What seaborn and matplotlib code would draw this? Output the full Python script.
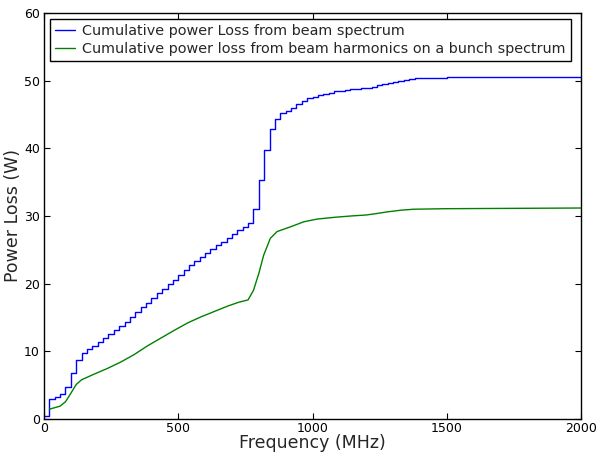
import matplotlib
matplotlib.use("Agg")
import matplotlib.pyplot as plt
import seaborn as sns
import pandas as pd

# Blue: cumulative power loss from beam spectrum (step curve, steps every 20 MHz)
beam_freq = [0, 20, 40, 60, 80, 100, 120, 140, 160, 180, 200, 220, 240, 260, 280,
             300, 320, 340, 360, 380, 400, 420, 440, 460, 480, 500, 520, 540, 560,
             580, 600, 620, 640, 660, 680, 700, 720, 740, 760, 780, 800, 820, 840,
             860, 880, 900, 920, 940, 960, 980, 1000, 1020, 1040, 1060, 1080, 1100,
             1120, 1140, 1160, 1180, 1200, 1220, 1240, 1260, 1280, 1300, 1320, 1340,
             1360, 1380, 1400, 1450, 1500, 1600, 1800, 2000]
beam_loss = [0.45, 2.9, 3.3, 3.65, 4.8, 6.85, 8.7, 9.7, 10.3, 10.8, 11.4, 12.0, 12.55,
             13.15, 13.75, 14.4, 15.05, 15.75, 16.5, 17.2, 17.9, 18.6, 19.2, 19.9,
             20.5, 21.3, 22.0, 22.7, 23.35, 23.9, 24.5, 25.1, 25.7, 26.2, 26.8, 27.4,
             28.0, 28.4, 28.9, 31.1, 35.3, 39.75, 42.8, 44.4, 45.2, 45.5, 46.0, 46.55,
             47.0, 47.4, 47.6, 47.9, 48.1, 48.25, 48.4, 48.5, 48.6, 48.7, 48.8, 48.9,
             48.95, 49.1, 49.4, 49.55, 49.7, 49.85, 49.95, 50.1, 50.25, 50.35, 50.42,
             50.45, 50.5, 50.52, 50.54, 50.55]

# Green: cumulative power loss from beam harmonics on a bunch spectrum
bunch_freq = [20, 60, 80, 100, 120, 140, 185, 235, 285, 335, 385, 435, 485, 535, 585,
              635, 685, 725, 760, 780, 800, 818, 843, 868, 918, 968, 1018, 1080, 1142,
              1200, 1228, 1277, 1328, 1376, 1500, 2000]
bunch_loss = [1.45, 1.9, 2.55, 3.8, 5.1, 5.8, 6.6, 7.45, 8.4, 9.5, 10.8, 11.95, 13.1,
              14.2, 15.1, 15.9, 16.7, 17.25, 17.6, 19.0, 21.5, 24.2, 26.7, 27.7, 28.4,
              29.15, 29.55, 29.8, 30.0, 30.15, 30.3, 30.6, 30.85, 31.0, 31.08, 31.18]

label_beam = "Cumulative power Loss from beam spectrum"
label_bunch = "Cumulative power loss from beam harmonics on a bunch spectrum"

x_ticks = [0, 500, 1000, 1500, 2000]
y_ticks = [0, 10, 20, 30, 40, 50, 60]

sns.set_theme(style="white", rc={
    "xtick.direction": "in", "ytick.direction": "in",
    "xtick.top": True, "ytick.right": True,
    "xtick.bottom": True, "ytick.left": True,
    "xtick.major.size": 4, "ytick.major.size": 4,
    "axes.edgecolor": "black", "axes.linewidth": 1.0,
})
plt.rcParams["font.family"] = ["DejaVu Sans"]

fig = plt.figure(figsize=(5.99, 4.53), dpi=100)
ax = fig.add_axes([44 / 599, 34 / 453, 537 / 599, 406 / 453])

df_beam = pd.DataFrame({"f": beam_freq, "p": beam_loss})
df_bunch = pd.DataFrame({"f": bunch_freq, "p": bunch_loss})

sns.lineplot(data=df_beam, x="f", y="p", ax=ax, color="#0000ff", lw=1.0,
             drawstyle="steps-post", estimator=None, sort=False, label=label_beam)
sns.lineplot(data=df_bunch, x="f", y="p", ax=ax, color="#008000", lw=1.0,
             estimator=None, sort=False, label=label_bunch)

ax.set_xlim(0, 2000)
ax.set_ylim(0, 60)
ax.set_xticks(x_ticks)
ax.set_yticks(y_ticks)
ax.tick_params(labelsize=9, colors="black", width=0.8, pad=3)
ax.tick_params(axis="x", pad=2.5)
ax.set_xlabel("Frequency (MHz)", fontsize=12.5)
ax.set_ylabel("Power Loss (W)", fontsize=12.5)
ax.xaxis.set_label_coords(0.5, -0.038)
ax.yaxis.set_label_coords(-0.041, 0.5)
for s in ax.spines.values():
    s.set_color("black")

leg = ax.legend(loc="upper left", fontsize=10.4, frameon=True, fancybox=False,
                edgecolor="black", framealpha=1, borderaxespad=0.4,
                handlelength=1.4, handletextpad=0.5, borderpad=0.35,
                labelspacing=0.3)
leg.get_frame().set_linewidth(1.0)

fig.savefig("out.png", dpi=100)
